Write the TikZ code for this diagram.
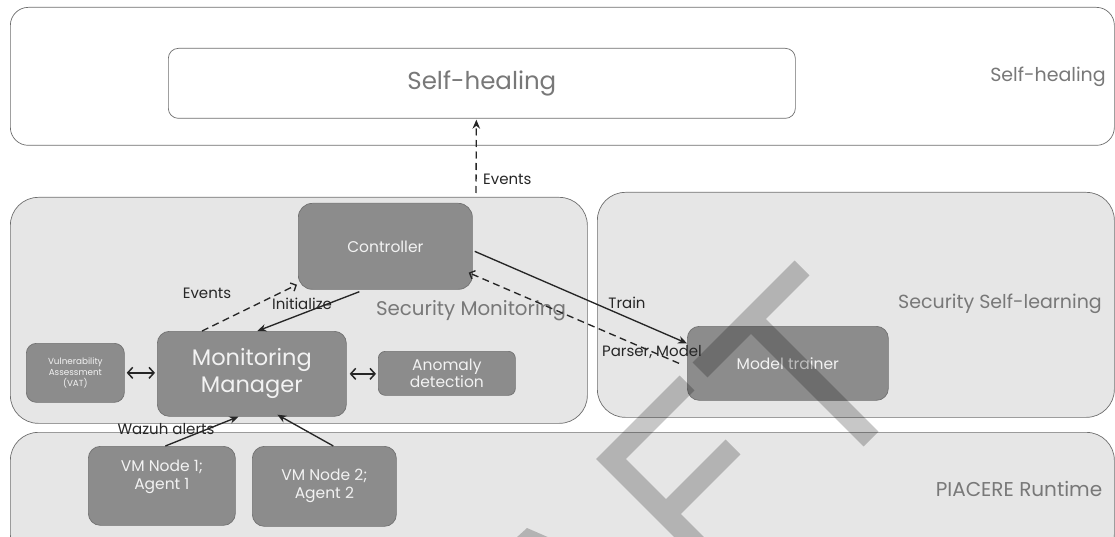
\documentclass[tikz,border=0pt]{standalone}
\usepackage{fontspec}
\setmainfont{Poppins}
\usetikzlibrary{arrows.meta}

\definecolor{panelfill}{HTML}{E6E6E6}
\definecolor{panelline}{HTML}{6E6E6E}
\definecolor{boxfill}{HTML}{8C8C8C}
\definecolor{boxline}{HTML}{727272}
\definecolor{boxtext}{HTML}{F2F2F2}
\definecolor{labelgray}{HTML}{787878}
\definecolor{ink}{HTML}{262626}

\newcommand\pxfont[2]{\fontsize{#1pt}{#2pt}\selectfont}

\tikzset{
  panelbox/.style={draw=panelline, line width=0.7pt, fill=panelfill,
    rounded corners=28pt, inner sep=0pt, anchor=north west},
  block/.style={draw=boxline, line width=0.7pt, fill=boxfill, text=boxtext,
    rounded corners=12pt, inner sep=0pt, anchor=north west, align=center},
  paneltext/.style={text=labelgray, inner sep=0pt},
  edgetext/.style={text=ink, inner sep=0pt, font=\pxfont{15}{18}},
  flow/.style={draw=ink, line width=1.35pt, -{Stealth[length=9pt,width=7.5pt]}},
  dflow/.style={draw=ink, line width=1.35pt, dash pattern=on 7pt off 4.5pt,
    -{Straight Barb[length=4.5pt,width=9pt]}},
  twoway/.style={draw=ink, line width=1.5pt,
    {Straight Barb[length=5pt,width=11pt]}-{Straight Barb[length=5pt,width=11pt]}},
  watermark/.style={draw=black, draw opacity=0.22, line width=21pt, line join=miter},
}

\begin{document}
\begin{tikzpicture}[x=1pt, y=-1pt]
\useasboundingbox (0,0) rectangle (1115,537);
\clip (0,0) rectangle (1115,537);

% layers
\node[panelbox, fill=white, rounded corners=18pt, minimum width=1104pt, minimum height=138pt] (shOuter) at (10,7) {};
\node[panelbox, fill=white, rounded corners=10pt, minimum width=627pt, minimum height=70pt] (shInner) at (168,48) {};
\node[panelbox, minimum width=577pt, minimum height=226pt] (smPanel) at (10,197) {};
\node[panelbox, minimum width=517pt, minimum height=225pt] (slPanel) at (597,192) {};
\node[panelbox, minimum width=1104pt, minimum height=130pt] (rtPanel) at (10,432) {};

% layer titles
\node[paneltext, font=\pxfont{24.5}{28}] (shInnerText) at (shInner.center) {Self-healing};
\node[paneltext, font=\pxfont{19}{22}] (shTitle) at (1048,77) {Self-healing};
\node[paneltext, font=\pxfont{19.8}{22}] (smTitle) at (471,311) {Security Monitoring};
\node[paneltext, font=\pxfont{19}{22}] (slTitle) at (1000,304) {Security Self-learning};
\node[paneltext, font=\pxfont{20}{22}] (rtTitle) at (1019,489) {PIACERE Runtime};

% components
\node[block, rounded corners=14pt, minimum width=174pt, minimum height=86pt, font=\pxfont{15.5}{18}] (ctrl) at (298,203) {Controller};
\node[block, minimum width=189pt, minimum height=85pt, font=\pxfont{22.5}{27}] (mm) at (157,331) {Monitoring\\Manager};
\node[block, rounded corners=10pt, minimum width=98pt, minimum height=59pt, font=\pxfont{8.8}{11}] (vat) at (26,343) {Vulnerability\\Assessment\\(VAT)};
\node[block, rounded corners=7pt, minimum width=137pt, minimum height=44pt, font=\pxfont{15.5}{17}] (anom) at (378,351) {Anomaly\\detection};
\node[block, minimum width=201pt, minimum height=74pt, font=\pxfont{15.5}{18}] (mt) at (687,326) {Model trainer};
\node[block, minimum width=147pt, minimum height=79pt,
  label={[text=boxtext, align=center, anchor=center, yshift=8.5pt, font=\pxfont{15.5}{18}]center:{VM Node 1;\\Agent 1}}] (vm1) at (88,446) {};
\node[block, minimum width=144pt, minimum height=80pt, font=\pxfont{15.5}{18}] (vm2) at (252,446) {VM Node 2;\\Agent 2};

% connectors
\coordinate (evsrc) at (476,193);
\draw[flow, dash pattern=on 7pt off 4.5pt] (evsrc) -- ([xshift=-5.5pt,yshift=-1pt]shInner.south);
\node[edgetext, anchor=west] (evUp) at (483,179) {Events};

\draw[dflow] ([xshift=45pt]mm.north west) -- ([yshift=5pt,xshift=-1pt]ctrl.south west);
\node[edgetext] (evMid) at (207,293) {Events};

\draw[flow] ([xshift=-26pt,yshift=-2pt]ctrl.south) -- ([xshift=5.5pt]mm.north);
\node[edgetext] (initLbl) at (302,304) {Initialize};

\draw[twoway] ([xshift=2pt]vat.east) -- ([xshift=-2pt]vat.east -| mm.west);
\draw[twoway] ([xshift=3pt]mm.east) -- ([xshift=-2pt]mm.east -| anom.west);

\draw[flow] ([yshift=-5pt,xshift=2pt]ctrl.east) -- ([yshift=20pt]mt.west);
\node[edgetext] (trainLbl) at (627,303) {Train};

\draw[dflow] ([xshift=-8pt]mt.west) -- ([xshift=-4pt,yshift=17pt]ctrl.south east);
\node[edgetext] (parserLbl) at (652,352) {Parser, Model};

\draw[flow] ([xshift=3.5pt]vm1.north) -- ([xshift=-13.5pt]mm.south);
\draw[flow] ([xshift=9pt]vm2.north) -- ([xshift=25.5pt,yshift=2pt]mm.south);
\node[edgetext] (wazuhLbl) at (166,429) {Wazuh alerts};

% draft watermark strokes
\draw[watermark] (700,370) -- (802,268) (751,319) -- (871,439);
\draw[watermark] (687,383) -- (611,459) -- (720,568) (733,447) -- (666,514);
\fill[black, fill opacity=0.22] (527,528) -- (550,538) -- (516,538) -- cycle;
\end{tikzpicture}
\end{document}
